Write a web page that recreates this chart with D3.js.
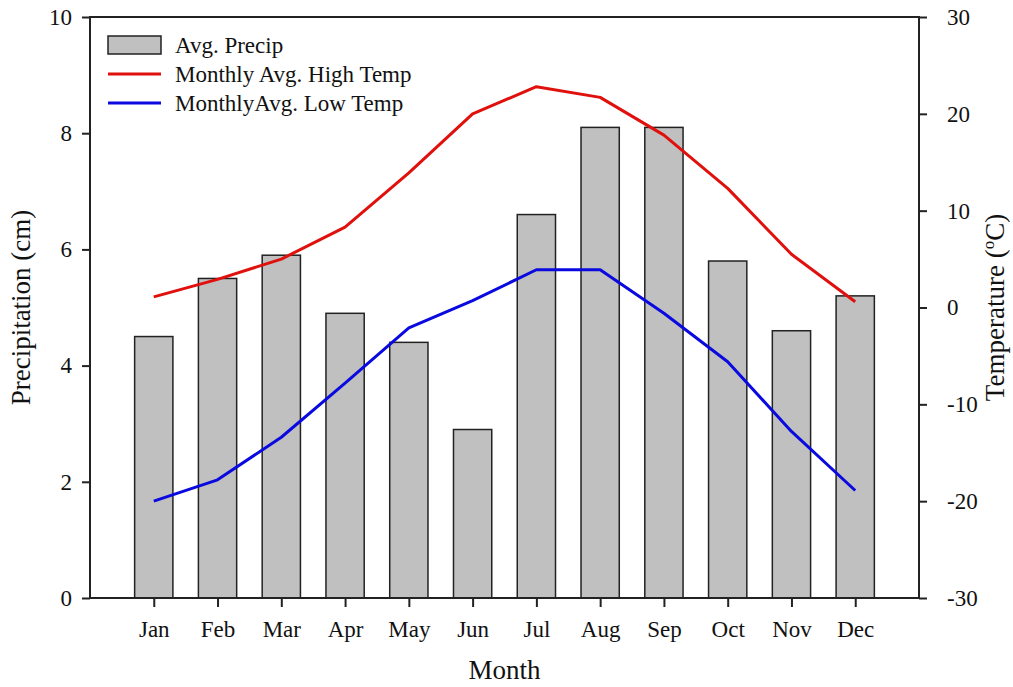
<!DOCTYPE html>
<html>
<head>
<meta charset="utf-8">
<script src="https://cdn.jsdelivr.net/npm/d3@7"></script>
<style>
  body { margin: 0; background: #fff; }
  text { font-family: "Liberation Serif", "Times New Roman", serif; fill: #111; }
</style>
</head>
<body>
<div class="canvas"></div>
<script>
// chart data
const months = ['Jan', 'Feb', 'Mar', 'Apr', 'May', 'Jun', 'Jul', 'Aug', 'Sep', 'Oct', 'Nov', 'Dec'];
const precip = [4.5, 5.5, 5.9, 4.9, 4.4, 2.9, 6.6, 8.1, 8.1, 5.8, 4.6, 5.2];
const highTemp = [1.1, 2.9, 5.0, 8.3, 13.9, 20.0, 22.8, 21.7, 17.8, 12.3, 5.5, 0.6];
const lowTemp = [-20.0, -17.8, -13.4, -7.8, -2.1, 0.7, 3.9, 3.9, -0.6, -5.6, -12.8, -18.9];
const precipTicks = [0, 2, 4, 6, 8, 10];
const tempTicks = [-30, -20, -10, 0, 10, 20, 30];

// graph dimensions
const width = 1013, height = 687;
const margin = { top: 17, right: 94, bottom: 89, left: 90 };
const graphWidth = width - margin.left - margin.right;
const graphHeight = height - margin.top - margin.bottom;

const svg = d3.select('.canvas')
  .append('svg')
  .attr('width', width)
  .attr('height', height);

const graph = svg.append('g')
  .attr('transform', `translate(${margin.left}, ${margin.top})`);

// scales
const x = d3.scalePoint().domain(months).range([0, graphWidth]).padding(1);
const yP = d3.scaleLinear().domain([0, 10]).range([graphHeight, 0]);
const yT = d3.scaleLinear().domain([-30, 30]).range([graphHeight, 0]);
const barWidth = x.step() * 0.6;

// bars
graph.selectAll('rect.bar')
  .data(precip)
  .enter()
  .append('rect')
  .attr('class', 'bar')
  .attr('x', (d, i) => x(months[i]) - barWidth / 2)
  .attr('y', d => yP(d))
  .attr('width', barWidth)
  .attr('height', d => graphHeight - yP(d))
  .attr('fill', '#c0c0c0')
  .attr('stroke', '#222')
  .attr('stroke-width', 1.5);

// temperature lines
const line = d3.line()
  .x((d, i) => x(months[i]))
  .y(d => yT(d));

graph.append('path')
  .datum(highTemp)
  .attr('fill', 'none')
  .attr('stroke', '#e0100c')
  .attr('stroke-width', 3)
  .attr('stroke-linejoin', 'round')
  .attr('d', line);

graph.append('path')
  .datum(lowTemp)
  .attr('fill', 'none')
  .attr('stroke', '#0a0ae0')
  .attr('stroke-width', 3)
  .attr('stroke-linejoin', 'round')
  .attr('d', line);

// axes
const styleAxis = g => {
  g.select('.domain').remove();
  g.selectAll('.tick line').attr('stroke', '#222').attr('stroke-width', 2);
  g.selectAll('.tick text').style('font-size', '23px').attr('fill', '#111');
};

graph.append('g')
  .call(d3.axisLeft(yP).tickValues(precipTicks).tickSize(8).tickPadding(10).tickFormat(d => String(d)))
  .call(styleAxis);

graph.append('g')
  .attr('transform', `translate(${graphWidth}, 0)`)
  .call(d3.axisRight(yT).tickValues(tempTicks).tickSize(8).tickPadding(20).tickFormat(d => String(d)))
  .call(styleAxis);

graph.append('g')
  .attr('transform', `translate(0, ${graphHeight})`)
  .call(d3.axisBottom(x).tickSize(9).tickPadding(14))
  .call(styleAxis);

// frame
graph.append('rect')
  .attr('width', graphWidth)
  .attr('height', graphHeight)
  .attr('fill', 'none')
  .attr('stroke', '#222')
  .attr('stroke-width', 2);

// axis titles
svg.append('text')
  .attr('transform', `translate(30, ${margin.top + graphHeight / 2}) rotate(-90)`)
  .attr('text-anchor', 'middle')
  .style('font-size', '27px')
  .text('Precipitation (cm)');

const tTitle = svg.append('text')
  .attr('transform', `translate(1004, ${margin.top + graphHeight / 2}) rotate(-90)`)
  .attr('text-anchor', 'middle')
  .style('font-size', '27px');
tTitle.append('tspan').text('Temperature (');
tTitle.append('tspan').attr('dy', -10).style('font-size', '17px').text('o');
tTitle.append('tspan').attr('dy', 10).text('C)');

svg.append('text')
  .attr('x', margin.left + graphWidth / 2)
  .attr('y', 679)
  .attr('text-anchor', 'middle')
  .style('font-size', '27px')
  .text('Month');

// legend
const legend = svg.append('g').attr('transform', 'translate(108, 45)');
legend.append('rect')
  .attr('x', 0).attr('y', -9)
  .attr('width', 53).attr('height', 18)
  .attr('fill', '#c0c0c0')
  .attr('stroke', '#222')
  .attr('stroke-width', 1.5);
legend.append('line')
  .attr('x1', 0).attr('x2', 53).attr('y1', 29).attr('y2', 29)
  .attr('stroke', '#e0100c').attr('stroke-width', 3);
legend.append('line')
  .attr('x1', 0).attr('x2', 53).attr('y1', 58).attr('y2', 58)
  .attr('stroke', '#0a0ae0').attr('stroke-width', 3);
const legendLabels = ['Avg. Precip', 'Monthly Avg. High Temp', 'MonthlyAvg. Low Temp'];
legend.selectAll('text.lbl')
  .data(legendLabels)
  .enter()
  .append('text')
  .attr('class', 'lbl')
  .attr('x', 67)
  .attr('y', (d, i) => i * 29 + 8)
  .style('font-size', '23px')
  .text(d => d);
</script>
</body>
</html>
